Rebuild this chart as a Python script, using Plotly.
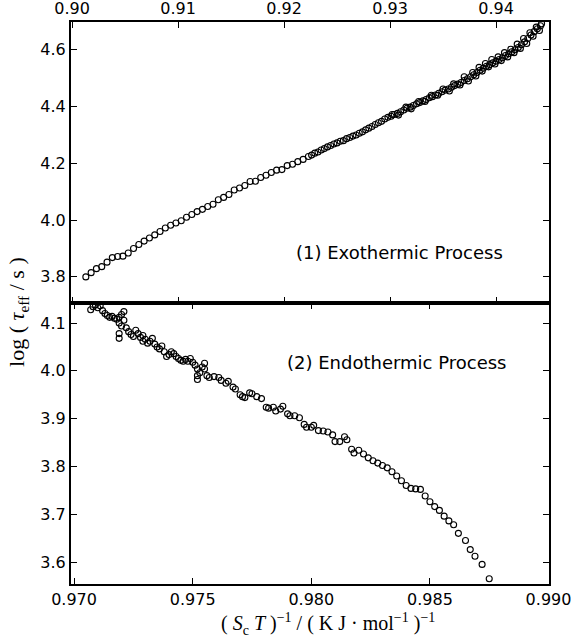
import plotly.graph_objects as go
from plotly.subplots import make_subplots

# ---------------- data: (1) exothermic process (top panel, x axis on top) ----------------
exo_x = [0.9013, 0.9018, 0.9023, 0.9028, 0.9033, 0.9038, 0.9043, 0.9048, 0.9053, 0.9058,
         0.9063, 0.9068, 0.9073, 0.9078, 0.9083, 0.9088, 0.9093, 0.9098, 0.9103, 0.9108,
         0.9113, 0.9118, 0.9123, 0.9128, 0.9133, 0.9138, 0.9143, 0.9148, 0.9153, 0.9158,
         0.9163, 0.9168, 0.9173, 0.9178, 0.9183, 0.9188, 0.9193, 0.9198, 0.9203, 0.9208,
         0.9213, 0.9218,
         0.9223, 0.9226, 0.9229, 0.9232, 0.9235, 0.9238, 0.9241, 0.9244, 0.9247, 0.9250,
         0.9253, 0.9256, 0.9259, 0.9262, 0.9265, 0.9268, 0.9271, 0.9274, 0.9277, 0.9280,
         0.9283, 0.9286, 0.9289, 0.9292, 0.9295, 0.9298, 0.9301, 0.9304, 0.9307, 0.9310,
         0.9313, 0.9316, 0.9319, 0.9322, 0.9325, 0.9328, 0.9331, 0.9334, 0.9337, 0.9340,
         0.9343, 0.9346, 0.9349, 0.9352, 0.9355, 0.9358, 0.9361, 0.9364, 0.9367, 0.9370,
         0.9373, 0.9376, 0.9379, 0.9382, 0.9385, 0.9388, 0.9391, 0.9394, 0.9397, 0.9400,
         0.9403, 0.9406, 0.9409, 0.9412, 0.9415, 0.9418, 0.9421, 0.9424, 0.9427, 0.9430,
         0.9433, 0.9436, 0.9439, 0.9442,
         0.9302, 0.9308, 0.9315, 0.9320, 0.9327, 0.9333, 0.9339, 0.9345, 0.9350, 0.9356,
         0.9360, 0.9366, 0.9370, 0.9374, 0.9378, 0.9381, 0.9384, 0.9387, 0.9390, 0.9393,
         0.9396, 0.9399, 0.9402, 0.9405, 0.9408, 0.9411, 0.9414, 0.9417, 0.9420, 0.9423,
         0.9426, 0.9429, 0.9432, 0.9435, 0.9438, 0.9441, 0.9443]
exo_y = [3.800, 3.815, 3.829, 3.836, 3.852, 3.868, 3.872, 3.873, 3.884, 3.900,
         3.914, 3.926, 3.937, 3.948, 3.960, 3.972, 3.982, 3.990, 3.998, 4.010,
         4.020, 4.030, 4.038, 4.048, 4.056, 4.072, 4.080, 4.090, 4.106, 4.113,
         4.122, 4.136, 4.137, 4.150, 4.158, 4.168, 4.176, 4.178, 4.192, 4.197,
         4.206, 4.214,
         4.224, 4.229, 4.236, 4.240, 4.247, 4.252, 4.258, 4.263, 4.268, 4.272,
         4.278, 4.280, 4.287, 4.291, 4.296, 4.300, 4.306, 4.311, 4.318, 4.324,
         4.330, 4.337, 4.343, 4.348, 4.356, 4.362, 4.366, 4.372, 4.376, 4.382,
         4.388, 4.394, 4.398, 4.404, 4.410, 4.414, 4.420, 4.425, 4.431, 4.435,
         4.441, 4.447, 4.452, 4.458, 4.462, 4.468, 4.474, 4.479, 4.485, 4.492,
         4.498, 4.505, 4.512, 4.520, 4.528, 4.535, 4.542, 4.548, 4.554, 4.560,
         4.566, 4.572, 4.580, 4.586, 4.593, 4.600, 4.608, 4.618, 4.628, 4.640,
         4.652, 4.664, 4.674, 4.685,
         4.372, 4.370, 4.398, 4.392, 4.418, 4.418, 4.440, 4.440, 4.462, 4.455,
         4.480, 4.476, 4.505, 4.490, 4.520, 4.508, 4.538, 4.525, 4.552, 4.540,
         4.566, 4.550, 4.575, 4.562, 4.590, 4.575, 4.602, 4.590, 4.620, 4.605,
         4.640, 4.622, 4.660, 4.648, 4.680, 4.668, 4.692]

# ---------------- data: (2) endothermic process (bottom panel) ----------------
endo_x = [0.9707, 0.9708, 0.9709, 0.9710, 0.9711, 0.9712, 0.9713, 0.9714, 0.9715, 0.9716,
          0.9717, 0.9718, 0.9719, 0.9719, 0.9720, 0.9721, 0.9721, 0.9720, 0.9719, 0.9719,
          0.9722, 0.9723, 0.9724, 0.9725, 0.9726, 0.9727, 0.9728, 0.9729, 0.9729, 0.9730,
          0.9731, 0.9732, 0.9733, 0.9734, 0.9735, 0.9736, 0.9737, 0.9738, 0.9739, 0.9740,
          0.9741, 0.9742, 0.9743, 0.9744, 0.9745, 0.9746, 0.9747, 0.9748, 0.9749, 0.9750,
          0.9751, 0.9752, 0.9752, 0.9752, 0.9753, 0.9754, 0.9755, 0.9755, 0.9756, 0.9757,
          0.9759, 0.9761, 0.9762, 0.9764, 0.9765, 0.9767, 0.9768, 0.9770, 0.9771, 0.9772,
          0.9774, 0.9775, 0.9777, 0.9779, 0.9781, 0.9782, 0.9784, 0.9785, 0.9787, 0.9788,
          0.9790, 0.9791, 0.9793, 0.9795, 0.9797, 0.9798, 0.9800, 0.9801, 0.9803, 0.9805,
          0.9807, 0.9809, 0.9810, 0.9812, 0.9814, 0.9815, 0.9817, 0.9818, 0.9820, 0.9822,
          0.9824, 0.9826, 0.9828, 0.9830, 0.9832, 0.9834, 0.9836, 0.9838, 0.9840, 0.9842,
          0.9844, 0.9846, 0.9848, 0.9850, 0.9852, 0.9854, 0.9856, 0.9858, 0.9860, 0.9862,
          0.9865, 0.9867, 0.9869, 0.9872, 0.9875]
endo_y = [4.128, 4.134, 4.138, 4.132, 4.136, 4.126, 4.120, 4.116, 4.112, 4.114,
          4.110, 4.108, 4.100, 4.112, 4.118, 4.124, 4.106, 4.094, 4.078, 4.068,
          4.090, 4.082, 4.076, 4.072, 4.085, 4.078, 4.070, 4.062, 4.074, 4.066,
          4.058, 4.062, 4.068, 4.056, 4.050, 4.046, 4.052, 4.040, 4.030, 4.034,
          4.040, 4.036, 4.030, 4.026, 4.022, 4.020, 4.024, 4.020, 4.026, 4.018,
          4.012, 4.004, 3.990, 3.982, 3.996, 4.008, 4.016, 4.004, 3.990, 3.986,
          3.988, 3.986, 3.980, 3.974, 3.978, 3.966, 3.962, 3.950, 3.946, 3.944,
          3.954, 3.952, 3.946, 3.942, 3.924, 3.922, 3.924, 3.916, 3.920, 3.926,
          3.910, 3.906, 3.906, 3.902, 3.888, 3.882, 3.882, 3.886, 3.875, 3.874,
          3.872, 3.866, 3.852, 3.852, 3.862, 3.856, 3.836, 3.828, 3.834, 3.826,
          3.818, 3.812, 3.807, 3.802, 3.797, 3.789, 3.780, 3.770, 3.760, 3.754,
          3.753, 3.752, 3.738, 3.726, 3.716, 3.708, 3.696, 3.686, 3.678, 3.660,
          3.645, 3.626, 3.612, 3.595, 3.565]

top_xticks = [0.90, 0.91, 0.92, 0.93, 0.94]
top_yticks = [3.8, 4.0, 4.2, 4.4, 4.6]
bot_xticks = [0.970, 0.975, 0.980, 0.985, 0.990]
bot_yticks = [3.6, 3.7, 3.8, 3.9, 4.0, 4.1]

fig = make_subplots(rows=2, cols=1, vertical_spacing=0.0)

marker = dict(symbol="circle-open", size=6, color="black", line=dict(width=1.1, color="black"))
fig.add_trace(go.Scatter(x=exo_x, y=exo_y, mode="markers", marker=marker, showlegend=False), row=1, col=1)
fig.add_trace(go.Scatter(x=endo_x, y=endo_y, mode="markers", marker=marker, showlegend=False), row=2, col=1)

tickfont = dict(family="DejaVu Sans", size=16, color="black")
common = dict(showline=True, linecolor="black", linewidth=2, ticks="inside", ticklen=6,
              tickwidth=1.2, tickcolor="black", mirror="allticks", showgrid=False,
              zeroline=False, tickfont=tickfont, automargin=False)

fig.update_xaxes(range=[0.8999, 0.9450], tickvals=top_xticks, tickformat=".2f", side="top",
                 domain=[0, 1], **common, row=1, col=1)
fig.update_yaxes(range=[3.708, 4.698], tickvals=top_yticks, tickformat=".1f",
                 domain=[0.5, 1.0], **common, row=1, col=1)
fig.update_xaxes(range=[0.96987, 0.99002], tickvals=bot_xticks, tickformat=".3f",
                 domain=[0, 1], **common, row=2, col=1)
fig.update_yaxes(range=[3.554, 4.142], tickvals=bot_yticks, tickformat=".1f",
                 domain=[0.0, 0.5], **common, row=2, col=1)

annfont = dict(family="DejaVu Sans", size=18, color="black")
fig.add_annotation(x=0.92094, y=3.885, xref="x", yref="y", xanchor="left", yanchor="middle",
                   text="(1) Exothermic Process", showarrow=False, font=annfont)
fig.add_annotation(x=0.97887, y=4.018, xref="x2", yref="y2", xanchor="left", yanchor="middle",
                   text="(2) Endothermic Process", showarrow=False, font=annfont)

NB = "\u00a0"
fig.add_annotation(x=-0.111, y=0.484, xref="paper", yref="paper", textangle=-90,
                   xanchor="center", yanchor="middle",
                   text=f"log{NB}({NB}<i>τ</i><sub>eff</sub>{NB}/{NB}s{NB})",
                   showarrow=False, font=dict(family="Liberation Serif", size=22, color="black"))
fig.add_annotation(x=0.538, y=-0.072, xref="paper", yref="paper",
                   xanchor="center", yanchor="middle",
                   text=(f"({NB}<i>S</i><sub>c</sub>{NB}<i>T</i>{NB})<sup>−1</sup>{NB}/{NB}"
                         f"({NB}K{NB}J{NB}·{NB}mol<sup>−1</sup>{NB})<sup>−1</sup>"),
                   showarrow=False, font=dict(family="Liberation Serif", size=20, color="black"))

fig.update_layout(width=578, height=640, margin=dict(l=71, r=29, t=22, b=56, autoexpand=False),
                  paper_bgcolor="white", plot_bgcolor="white")

fig.write_html("out.html", config={"displayModeBar": False},
               post_script="document.body.style.margin='0';")
